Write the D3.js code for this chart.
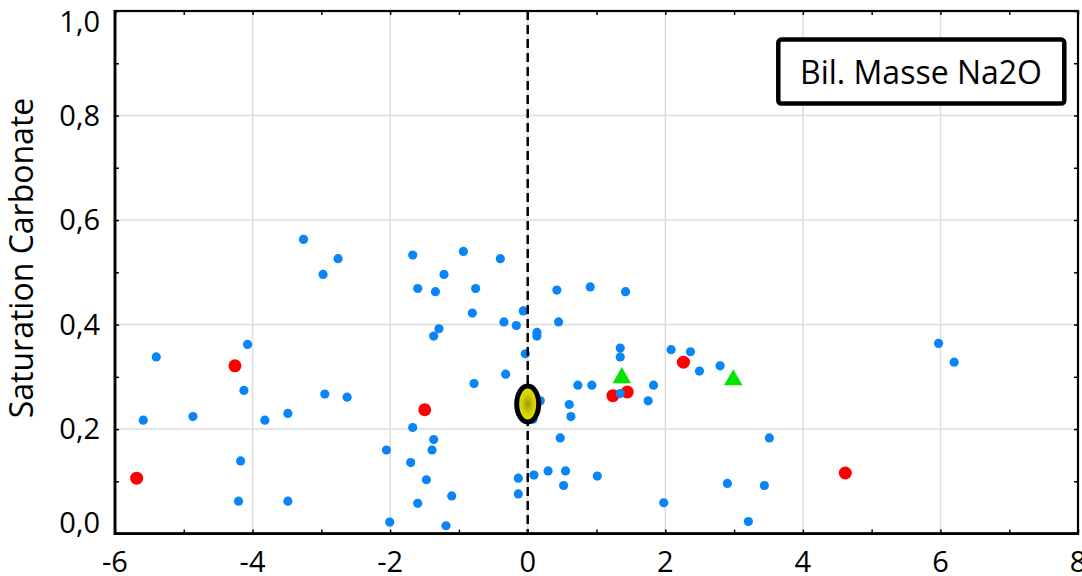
<!DOCTYPE html>
<html>
<head>
<meta charset="utf-8">
<script src="https://cdn.jsdelivr.net/npm/d3@7"></script>
<style>
  html, body { margin: 0; padding: 0; background: #fff; }
  svg { display: block; }
  text { font-family: "Open Sans", "Liberation Sans", sans-serif; fill: #000; }
</style>
</head>
<body>
<svg id="chart" width="1082" height="576"></svg>
<script>
// ---- data ----
const blueX = [-5.40, -4.073, -4.126, -5.589, -4.867, -3.821, -3.487, -2.95, -2.626, -4.174, -4.204, -3.487,
  -3.259, -2.975, -2.757, -1.672, -0.935, -0.398, -1.217, -1.599, -1.342, -0.757, 0.424, -0.805, -0.064,
  -0.346, -0.166, 0.449, -1.29, -1.367, 0.134, 0.134, -0.035, -0.321, -0.781, 0.183, 0.076, -1.672,
  -1.367, -2.054, -1.391, -1.701, -1.473, -0.137, 0.09, 0.296, 0.521, -1.105, -0.137, -1.599, -2.006,
  -1.188, 0.909, 1.422, 1.345, 1.345, 0.729, 0.933, 1.345, 1.829, 1.751, 0.604, 0.628, 0.473, 0.55,
  1.011, 1.978, 2.085, 2.366, 2.497, 2.797, 3.513, 2.903, 3.441, 3.208, 5.973, 6.2];
const blueY = [0.338, 0.362, 0.274, 0.217, 0.224, 0.217, 0.230, 0.267, 0.261, 0.139, 0.062, 0.062,
  0.563, 0.496, 0.526, 0.533, 0.540, 0.526, 0.496, 0.469, 0.463, 0.469, 0.466, 0.422, 0.426,
  0.405, 0.398, 0.405, 0.392, 0.378, 0.385, 0.378, 0.344, 0.305, 0.287, 0.254, 0.219, 0.203,
  0.180, 0.160, 0.160, 0.136, 0.103, 0.106, 0.112, 0.120, 0.092, 0.072, 0.076, 0.058, 0.022,
  0.015, 0.472, 0.463, 0.355, 0.338, 0.284, 0.284, 0.268, 0.284, 0.254, 0.247, 0.224, 0.183, 0.120,
  0.110, 0.059, 0.352, 0.348, 0.311, 0.321, 0.183, 0.096, 0.092, 0.023, 0.364, 0.328];
const redX = [-5.685, -4.256, -1.497, 1.238, 1.447, 2.264, 4.617];
const redY = [0.106, 0.321, 0.237, 0.264, 0.271, 0.328, 0.116];
const greenX = [1.368, 2.988];
const greenY = [0.298, 0.294];
const refX = [0];
const refY = [0.248];
const xTicks = [-6, -4, -2, 0, 2, 4, 6, 8];
const yTicks = [0, 0.2, 0.4, 0.6, 0.8, 1.0];
const xMinor = d3.range(-6, 8.01, 1);
const yMinor = d3.range(0, 1.001, 0.1);
const yTitle = "Saturation Carbonate";
const boxLabel = "Bil. Masse Na2O";

// ---- layout ----
const pL = 115, pR = 1078, pT = 11, pB = 533.6;
const svg = d3.select("#chart");
const x = d3.scaleLinear().domain([-6, 8]).range([pL, pR]);
const y = d3.scaleLinear().domain([0, 1]).range([pB, pT]);

svg.append("rect").attr("width", 1082).attr("height", 576).attr("fill", "#fff");

// gridlines
const grid = svg.append("g").attr("stroke", "#dcdcdc").attr("stroke-width", 1.5);
grid.selectAll(".gx").data(xTicks.slice(1, -1)).join("line").attr("class", "gx")
  .attr("x1", d => x(d)).attr("x2", d => x(d)).attr("y1", pT).attr("y2", pB);
grid.selectAll(".gy").data(yTicks.slice(1, -1)).join("line").attr("class", "gy")
  .attr("y1", d => y(d)).attr("y2", d => y(d)).attr("x1", pL).attr("x2", pR);

// inward ticks on all four sides
const tickLen = 4;
const axB = d3.axisBottom(x).tickValues(xMinor).tickSize(-tickLen).tickFormat("");
const axT = d3.axisTop(x).tickValues(xMinor).tickSize(-tickLen).tickFormat("");
const axL = d3.axisLeft(y).tickValues(yMinor).tickSize(-tickLen).tickFormat("");
const axR = d3.axisRight(y).tickValues(yMinor).tickSize(-tickLen).tickFormat("");
[[axB, `translate(0,${pB})`], [axT, `translate(0,${pT})`], [axL, `translate(${pL},0)`], [axR, `translate(${pR},0)`]]
  .forEach(([ax, tr]) => {
    const g = svg.append("g").attr("transform", tr).call(ax);
    g.select(".domain").remove();
    g.selectAll(".tick line").attr("stroke", "#000").attr("stroke-width", 1.5);
  });

// frame
svg.append("rect").attr("x", pL).attr("y", pT).attr("width", pR - pL).attr("height", pB - pT)
  .attr("fill", "none").attr("stroke", "#000").attr("stroke-width", 2.2);
svg.append("line").attr("x1", pL).attr("x2", pL).attr("y1", pT - 1).attr("y2", pB + 1.2)
  .attr("stroke", "#000").attr("stroke-width", 2.8);
svg.append("line").attr("x1", pL - 1.2).attr("x2", pR + 1).attr("y1", pB).attr("y2", pB)
  .attr("stroke", "#000").attr("stroke-width", 2.8);

// tick labels
const fs = 29, capH = 0.714 * fs;
svg.append("g").selectAll("text").data(xTicks).join("text")
  .attr("x", d => x(d)).attr("y", 572).attr("text-anchor", "middle")
  .attr("font-size", fs).text(d => String(d));
svg.append("g").selectAll("text").data(yTicks).join("text")
  .attr("x", 100)
  .attr("y", d => d === 1 ? pT + capH + 0.5 : (d === 0 ? pB - 0.5 : y(d) + capH / 2))
  .attr("text-anchor", "end").attr("font-size", fs)
  .text(d => d.toFixed(1).replace(".", ","));

// axis title
svg.append("text").attr("transform", "translate(33,258) rotate(-90)")
  .attr("text-anchor", "middle").attr("font-size", 32).text(yTitle);

// markers
const dots = svg.append("g");
dots.selectAll(".red").data(redX.map((v, i) => [v, redY[i]])).join("circle").attr("class", "red")
  .attr("cx", d => x(d[0])).attr("cy", d => y(d[1])).attr("r", 6.5).attr("fill", "#ff0000");
dots.selectAll(".blue").data(blueX.map((v, i) => [v, blueY[i]])).join("circle").attr("class", "blue")
  .attr("cx", d => x(d[0])).attr("cy", d => y(d[1])).attr("r", 4.6).attr("fill", "#0a85f7");
dots.selectAll(".green").data(greenX.map((v, i) => [v, greenY[i]])).join("path").attr("class", "green")
  .attr("transform", d => `translate(${x(d[0])},${y(d[1])})`)
  .attr("d", d3.symbol(d3.symbolTriangle, 150)).attr("fill", "#00e600");

// dashed zero line
svg.append("line").attr("x1", x(0)).attr("x2", x(0)).attr("y1", pT).attr("y2", pB)
  .attr("stroke", "#000").attr("stroke-width", 2.5).attr("stroke-dasharray", "9,5");

// reference ellipse
const defs = svg.append("defs");
const rg = defs.append("radialGradient").attr("id", "yel");
rg.append("stop").attr("offset", "0%").attr("stop-color", "#9c9a10");
rg.append("stop").attr("offset", "55%").attr("stop-color", "#d4d200");
rg.append("stop").attr("offset", "100%").attr("stop-color", "#eae600");
svg.append("g").selectAll("ellipse").data(refX.map((v, i) => [v, refY[i]])).join("ellipse")
  .attr("cx", d => x(d[0])).attr("cy", d => y(d[1])).attr("rx", 11).attr("ry", 18)
  .attr("fill", "url(#yel)").attr("stroke", "#000").attr("stroke-width", 5);

// label box
svg.append("rect").attr("x", 778.3).attr("y", 39.6).attr("width", 286).attr("height", 64).attr("rx", 3)
  .attr("fill", "#fff").attr("stroke", "#000").attr("stroke-width", 4.5);
svg.append("text").attr("x", 921).attr("y", 83.5).attr("text-anchor", "middle")
  .attr("font-size", 32).text(boxLabel);
</script>
</body>
</html>
